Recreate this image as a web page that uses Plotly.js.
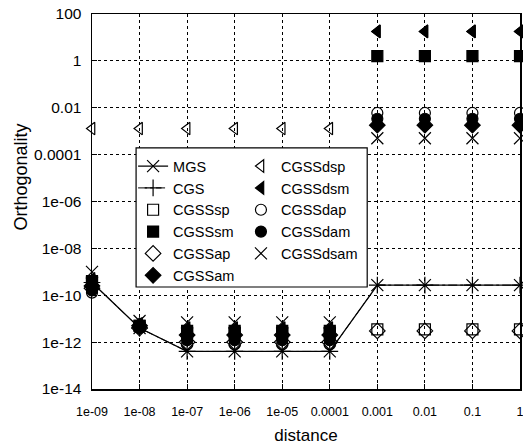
<!DOCTYPE html>
<html><head><meta charset="utf-8">
<script src="https://cdn.plot.ly/plotly-3.0.1.min.js"></script>
<style>html,body{margin:0;padding:0;background:#fff}#chart{width:523px;height:446px}</style>
</head><body><div id="chart"></div>
<script>
// ---- data ----
const distance = [1e-9, 1e-8, 1e-7, 1e-6, 1e-5, 1e-4, 1e-3, 1e-2, 1e-1, 1];
const xTickLabels = ['1e-09','1e-08','1e-07','1e-06','1e-05','0.0001','0.001','0.01','0.1','1'];
const yTickVals = [100, 1, 0.01, 1e-4, 1e-6, 1e-8, 1e-10, 1e-12, 1e-14];
const yTickLabels = ['100','1','0.01','0.0001','1e-06','1e-08','1e-10','1e-12','1e-14'];

const MGS      = [3.5e-10, 4e-12, 4e-13, 4e-13, 4e-13, 4e-13, 2.7e-10, 2.7e-10, 2.7e-10, 2.7e-10];
const CGS      = [3.5e-10, 4e-12, 4e-13, 4e-13, 4e-13, 4e-13, 2.7e-10, 2.7e-10, 2.7e-10, 2.7e-10];
const CGSSsp   = [3e-10, 5e-12, 2.5e-12, 2.5e-12, 2.5e-12, 2.5e-12, 3.5e-12, 3.5e-12, 3.5e-12, 3.5e-12];
const CGSSsm   = [4e-10, 5e-12, 3e-12, 3e-12, 3e-12, 3e-12, 1.6, 1.6, 1.6, 1.6];
const CGSSap   = [2e-10, 4e-12, 1e-12, 1e-12, 1e-12, 1e-12, 3e-12, 3e-12, 3e-12, 3e-12];
const CGSSam   = [2.5e-10, 5e-12, 2e-12, 2e-12, 2e-12, 2e-12, 1.8e-3, 1.8e-3, 1.8e-3, 1.8e-3];
const CGSSdsp  = [1.3e-3, 1.3e-3, 1.3e-3, 1.3e-3, 1.3e-3, 1.3e-3, 18, 18, 18, 18];
const CGSSdsm  = [5e-10, 6e-12, 4e-12, 4e-12, 4e-12, 4e-12, 18, 18, 18, 18];
const CGSSdap  = [1.3e-10, 4e-12, 8e-13, 8e-13, 8e-13, 8e-13, 6e-3, 6e-3, 6e-3, 6e-3];
const CGSSdam  = [1.6e-10, 4e-12, 1.2e-12, 1.2e-12, 1.2e-12, 1.2e-12, 3.4e-3, 3.4e-3, 3.4e-3, 3.4e-3];
const CGSSdsam = [1e-9, 8e-12, 7e-12, 7e-12, 7e-12, 7e-12, 5e-4, 5e-4, 5e-4, 5e-4];

// ---- traces ----
const FONT = 'Liberation Sans, Arial, Helvetica, sans-serif';
function tr(name, y, symbol, opts) {
  opts = opts || {};
  return {
    type: 'scatter', x: distance, y: y, name: name,
    mode: opts.line ? 'lines+markers' : 'markers',
    line: opts.line || undefined,
    marker: {symbol: symbol, size: opts.size || 11, color: '#000',
             line: {color: '#000', width: 1.2}},
    legend: opts.legend || 'legend',
    cliponaxis: false
  };
}
const traces = [
  tr('MGS', MGS, 'x-thin-open', {line: {color: '#000', width: 1.3}, size: 12}),
  tr('CGS', CGS, 'cross-thin-open', {line: {color: '#000', width: 1, dash: 'dashdot'}, size: 12}),
  tr('CGSSsp', CGSSsp, 'square-open'),
  tr('CGSSsm', CGSSsm, 'square'),
  tr('CGSSap', CGSSap, 'diamond-open', {size: 12}),
  tr('CGSSam', CGSSam, 'diamond', {size: 12}),
  tr('CGSSdsp', CGSSdsp, 'triangle-left-open', {legend: 'legend2'}),
  tr('CGSSdsm', CGSSdsm, 'triangle-left', {legend: 'legend2'}),
  tr('CGSSdap', CGSSdap, 'circle-open', {legend: 'legend2'}),
  tr('CGSSdam', CGSSdam, 'circle', {legend: 'legend2'}),
  tr('CGSSdsam', CGSSdsam, 'x-thin-open', {legend: 'legend2', size: 12})
];

const legendCommon = {
  bgcolor: 'rgba(0,0,0,0)', borderwidth: 0,
  font: {family: FONT, size: 14.5, color: '#000'},
  xanchor: 'left', yanchor: 'top', tracegroupgap: 0, itemwidth: 30
};

const layout = {
  width: 523, height: 446,
  margin: {l: 92, r: 3, t: 14, b: 57},
  paper_bgcolor: '#fff', plot_bgcolor: '#fff',
  font: {family: FONT, color: '#000'},
  showlegend: true,
  legend: Object.assign({}, legendCommon, {x: 0.096, y: 0.637}),
  legend2: Object.assign({}, legendCommon, {x: 0.348, y: 0.637}),
  xaxis: {
    type: 'log', range: [-9, 0],
    tickvals: distance, ticktext: xTickLabels,
    tickfont: {size: 12.5, family: FONT},
    ticks: 'inside', ticklen: 5, tickcolor: '#000',
    ticklabeloverflow: 'allow',
    showline: true, linecolor: '#000', linewidth: 1.5, mirror: true,
    showgrid: true, gridcolor: '#000', gridwidth: 1, griddash: 'dot',
    zeroline: false, ticklabelstandoff: 10,
    title: {text: 'distance', font: {size: 17, family: FONT}, standoff: 11}
  },
  yaxis: {
    type: 'log', range: [-14, 2],
    tickvals: yTickVals, ticktext: yTickLabels,
    tickfont: {size: 15.5, family: FONT},
    ticks: 'inside', ticklen: 5, tickcolor: '#000',
    showline: true, linecolor: '#000', linewidth: 1.5, mirror: true,
    showgrid: true, gridcolor: '#000', gridwidth: 1, griddash: 'dot',
    zeroline: false, ticklabelstandoff: 6
  },
  annotations: [{
    text: 'Orthogonality', textangle: -90, showarrow: false,
    xref: 'paper', yref: 'paper', x: -0.165, y: 0.565,
    xanchor: 'center', yanchor: 'middle',
    font: {size: 18, family: FONT, color: '#000'}
  }],
  shapes: [{
    type: 'rect', xref: 'paper', yref: 'paper', layer: 'above',
    x0: 0.103, x1: 0.643, y0: 0.272, y1: 0.643,
    fillcolor: '#fff', line: {color: '#000', width: 1.2}
  }]
};

Plotly.newPlot('chart', traces, layout, {displayModeBar: false, staticPlot: true});
</script>
</body></html>
